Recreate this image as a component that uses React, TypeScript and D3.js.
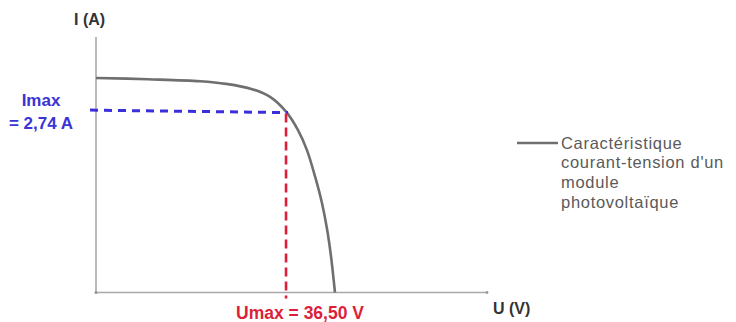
import React from "react";
import * as d3 from "d3";

// I-V characteristic of a PV module (U in V, I in A)
const voltages = [0, 10.0, 20.0, 25.0, 30.0, 33.5, 36.5, 38.8, 40.5, 42.1, 43.4, 44.4, 45.15, 45.9];
const currents = [3.25, 3.23, 3.2, 3.16, 3.08, 2.96, 2.74, 2.46, 2.16, 1.75, 1.355, 0.95, 0.54, 0];

const uMax = 36.5;
const iMax = 2.74;
const uAxisMax = 75.1;
const iAxisMax = 3.87;

const legendLines = ["Caractéristique", "courant-tension  d'un", "module", "photovoltaïque"];
const imaxLabel = ["Imax", "= 2,74 A"];
const umaxLabel = "Umax = 36,50 V";
const xAxisLabel = "U (V)";
const yAxisLabel = "I (A)";

export default function App() {
  const W = 736;
  const H = 322;
  const x = d3.scaleLinear().domain([0, uAxisMax]).range([96, 487]);
  const y = d3.scaleLinear().domain([0, iAxisMax]).range([292.5, 37]);
  const pts: [number, number][] = voltages.map((v, i) => [v, currents[i]]);
  const line = d3
    .line<[number, number]>()
    .x((d) => x(d[0]))
    .y((d) => y(d[1]))
    .curve(d3.curveCatmullRom.alpha(0.5));

  const font = "'Liberation Sans', Arial, sans-serif";

  return (
    <svg
      width={W}
      height={H}
      style={{ position: "absolute", left: 0, top: 0, background: "#fff" }}
    >
      {/* axes */}
      <line x1={x(0)} x2={x(0)} y1={y(0)} y2={y(iAxisMax)} stroke="#a9a9a9" strokeWidth={1.6} />
      <line x1={x(0)} x2={x(uAxisMax)} y1={y(0)} y2={y(0)} stroke="#a9a9a9" strokeWidth={1.6} />
      <circle cx={x(0)} cy={y(0)} r={1.6} fill="#999" />
      <circle cx={x(uAxisMax)} cy={y(0)} r={1.4} fill="#999" />

      {/* curve */}
      <path d={line(pts) || ""} fill="none" stroke="#6f6f6f" strokeWidth={2.6} />

      {/* Imax dashed */}
      <line
        x1={x(0) - 6}
        x2={x(uMax) + 2}
        y1={y(iMax) - 1.5}
        y2={y(iMax) + 1}
        stroke="#3a2fd8"
        strokeWidth={3}
        strokeDasharray="8,6"
      />
      {/* Umax dashed */}
      <line
        x1={x(uMax)}
        x2={x(uMax)}
        y1={y(iMax) + 2}
        y2={y(0) + 6}
        stroke="#dc1f3a"
        strokeWidth={2.6}
        strokeDasharray="9,5"
      />

      {/* axis labels */}
      <text x={74} y={25} fontFamily={font} fontWeight="bold" fontSize={16} fill="#333">
        {yAxisLabel}
      </text>
      <text x={493} y={314} fontFamily={font} fontWeight="bold" fontSize={16} fill="#333">
        {xAxisLabel}
      </text>

      {/* Imax label */}
      <text x={41} y={106} textAnchor="middle" fontFamily={font} fontWeight="bold" fontSize={17} fill="#3a34d6">
        {imaxLabel[0]}
      </text>
      <text x={41} y={129} textAnchor="middle" fontFamily={font} fontWeight="bold" fontSize={17} fill="#3a34d6">
        {imaxLabel[1]}
      </text>

      {/* Umax label */}
      <text x={300} y={319} textAnchor="middle" fontFamily={font} fontWeight="bold" fontSize={17.5} fill="#dc1f3a">
        {umaxLabel}
      </text>

      {/* legend */}
      <line x1={517} x2={558} y1={143} y2={143} stroke="#6f6f6f" strokeWidth={2.6} />
      {legendLines.map((t, i) => (
        <text
          key={i}
          x={561}
          y={148.5 + i * 19.7}
          fontFamily={font}
          fontSize={16.5}
          letterSpacing={0.7}
          fill="#5a5a5a"
        >
          {t}
        </text>
      ))}
    </svg>
  );
}
